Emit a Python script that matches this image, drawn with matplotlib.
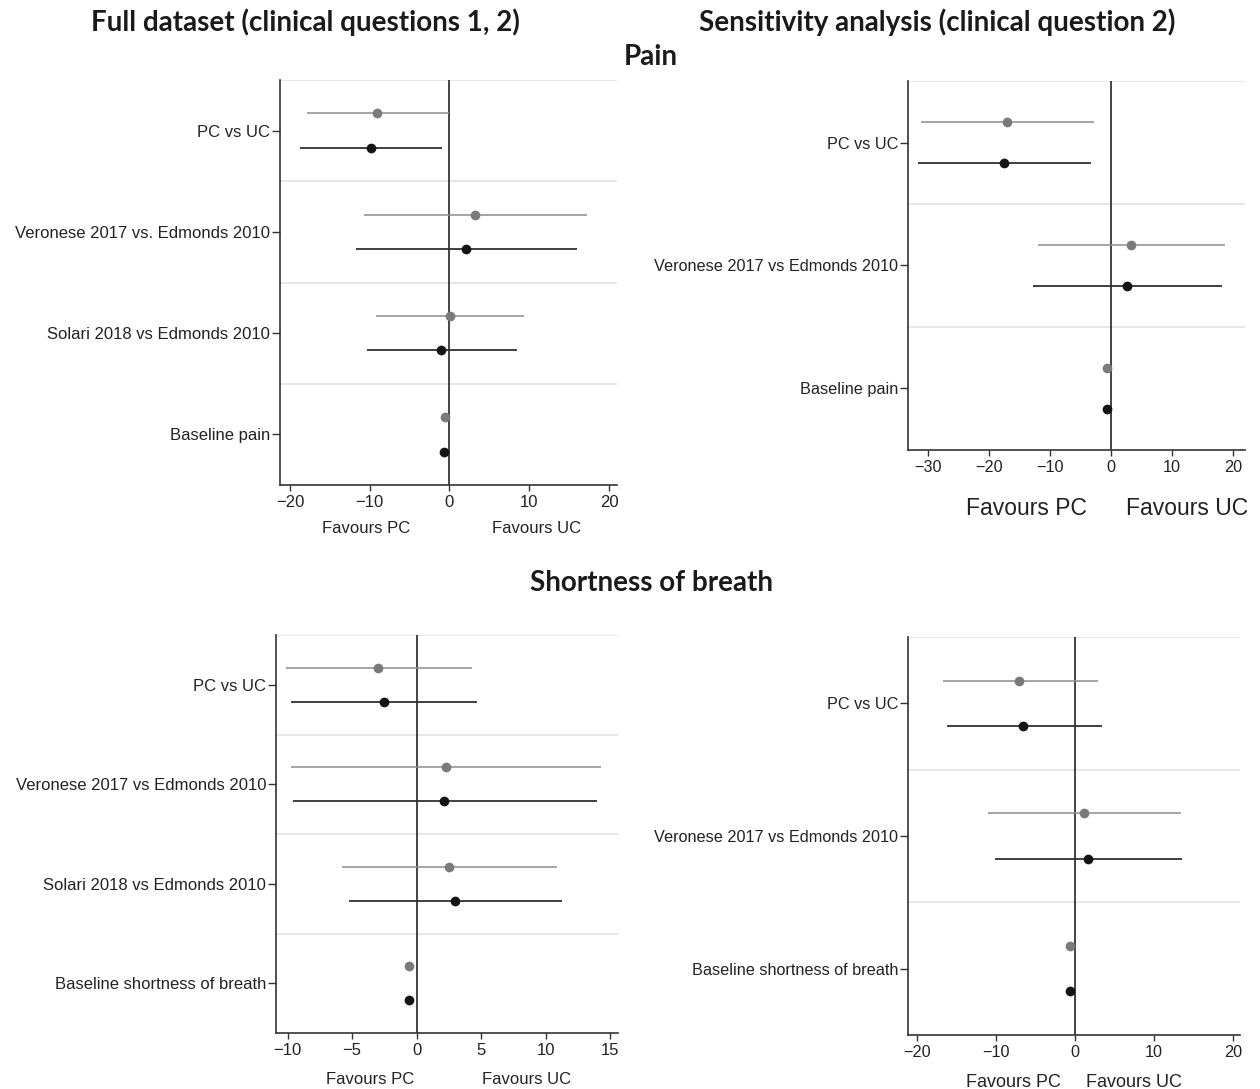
import matplotlib
matplotlib.use("Agg")
import matplotlib.pyplot as plt

plt.rcParams['font.family'] = ['Liberation Sans', 'DejaVu Sans']

# ---- Data ----
# Pain, full dataset
pain_full_labels = ["PC vs UC", "Veronese 2017 vs. Edmonds 2010", "Solari 2018 vs Edmonds 2010", "Baseline pain"]
pain_full_gray_est = [-9.1, 3.25, 0.1, -0.6]
pain_full_gray_lo = [-17.9, -10.75, -9.25, -0.6]
pain_full_gray_hi = [-0.1, 17.25, 9.4, -0.6]
pain_full_black_est = [-9.9, 2.1, -1.1, -0.7]
pain_full_black_lo = [-18.75, -11.75, -10.4, -0.7]
pain_full_black_hi = [-1.0, 16.0, 8.5, -0.7]

# Pain, sensitivity analysis
pain_sens_labels = ["PC vs UC", "Veronese 2017 vs Edmonds 2010", "Baseline pain"]
pain_sens_gray_est = [-17.0, 3.3, -0.65]
pain_sens_gray_lo = [-31.0, -11.9, -0.65]
pain_sens_gray_hi = [-2.8, 18.6, -0.65]
pain_sens_black_est = [-17.5, 2.6, -0.65]
pain_sens_black_lo = [-31.5, -12.7, -0.65]
pain_sens_black_hi = [-3.3, 18.1, -0.65]

# Shortness of breath, full dataset
sob_full_labels = ["PC vs UC", "Veronese 2017 vs Edmonds 2010", "Solari 2018 vs Edmonds 2010", "Baseline shortness of breath"]
sob_full_gray_est = [-3.0, 2.25, 2.5, -0.6]
sob_full_gray_lo = [-10.15, -9.7, -5.8, -0.6]
sob_full_gray_hi = [4.3, 14.3, 10.85, -0.6]
sob_full_black_est = [-2.55, 2.15, 2.95, -0.6]
sob_full_black_lo = [-9.75, -9.6, -5.25, -0.6]
sob_full_black_hi = [4.65, 14.0, 11.25, -0.6]

# Shortness of breath, sensitivity analysis
sob_sens_labels = ["PC vs UC", "Veronese 2017 vs Edmonds 2010", "Baseline shortness of breath"]
sob_sens_gray_est = [-7.0, 1.15, -0.55]
sob_sens_gray_lo = [-16.7, -11.0, -0.55]
sob_sens_gray_hi = [3.0, 13.4, -0.55]
sob_sens_black_est = [-6.5, 1.65, -0.6]
sob_sens_black_lo = [-16.2, -10.1, -0.6]
sob_sens_black_hi = [3.4, 13.6, -0.6]

# x axis ticks
pain_full_xticks = [-20, -10, 0, 10, 20]
pain_sens_xticks = [-30, -20, -10, 0, 10, 20]
sob_full_xticks = [-10, -5, 0, 5, 10, 15]
sob_sens_xticks = [-20, -10, 0, 10, 20]

GRAY_PT = "#7a7a7a"
GRAY_LN = "#8c8c8c"
BLACK_PT = "#141414"
BLACK_LN = "#303030"
SEP = "#e3e3e3"
SPINE = "#333333"

fig = plt.figure(figsize=(12.6, 10.89), dpi=100)


def panel(rect, labels, g_est, g_lo, g_hi, b_est, b_lo, b_hi, xticks, xlim,
          fav_x, fav_y, fav_size, lab_size):
    ax = fig.add_axes(rect)
    n = len(labels)
    ys = list(range(n))
    off = 0.17
    for i in ys:
        ax.plot([g_lo[i], g_hi[i]], [i - off, i - off], color=GRAY_LN, lw=1.1, zorder=3, solid_capstyle='butt')
        ax.plot([b_lo[i], b_hi[i]], [i + off, i + off], color=BLACK_LN, lw=1.3, zorder=3, solid_capstyle='butt')
    ax.plot(g_est, [y - off for y in ys], 'o', color=GRAY_PT, ms=7, zorder=4, mec='none')
    ax.plot(b_est, [y + off for y in ys], 'o', color=BLACK_PT, ms=7, zorder=4, mec='none')
    for k in range(n):
        ax.axhline(k - 0.5, color=SEP, lw=1.2, zorder=1)
    ax.axvline(0, color="#111111", lw=1.1, zorder=2)
    ax.set_ylim(n - 0.5, -0.5)
    ax.set_xlim(*xlim)
    ax.set_yticks(ys)
    ax.set_yticklabels(labels, fontsize=lab_size, color="#222222")
    ax.set_xticks(xticks)
    ax.set_xticklabels([("\u2212" + str(-t)) if t < 0 else str(t) for t in xticks],
                       fontsize=lab_size, color="#222222")
    for s in ['top', 'right']:
        ax.spines[s].set_visible(False)
    for s in ['left', 'bottom']:
        ax.spines[s].set_color(SPINE)
        ax.spines[s].set_linewidth(1.2)
    ax.tick_params(axis='y', length=6, width=1.0, color=SPINE, pad=1)
    ax.tick_params(axis='x', length=4, width=1.0, color=SPINE, pad=3)
    ax.text(fav_x[0], fav_y, "Favours PC", transform=ax.get_xaxis_transform(),
            ha='center', va='center', fontsize=fav_size, color="#222222")
    ax.text(fav_x[1], fav_y, "Favours UC", transform=ax.get_xaxis_transform(),
            ha='center', va='center', fontsize=fav_size, color="#222222")
    return ax


panel([0.2222, 0.5546, 0.2675, 0.3719], pain_full_labels,
      pain_full_gray_est, pain_full_gray_lo, pain_full_gray_hi,
      pain_full_black_est, pain_full_black_lo, pain_full_black_hi,
      pain_full_xticks, (-21.25, 21.0), (-10.5, 10.9), -0.108, 12, 12)

panel([0.7206, 0.5868, 0.2675, 0.3388], pain_sens_labels,
      pain_sens_gray_est, pain_sens_gray_lo, pain_sens_gray_hi,
      pain_sens_black_est, pain_sens_black_lo, pain_sens_black_hi,
      pain_sens_xticks, (-33.2, 21.9), (-13.9, 12.4), -0.158, 16.5, 11.7)

panel([0.2190, 0.0514, 0.2715, 0.3655], sob_full_labels,
      sob_full_gray_est, sob_full_gray_lo, sob_full_gray_hi,
      sob_full_black_est, sob_full_black_lo, sob_full_black_hi,
      sob_full_xticks, (-10.9, 15.6), (-3.6, 8.5), -0.118, 12, 12)

panel([0.7206, 0.0496, 0.2635, 0.3655], sob_sens_labels,
      sob_sens_gray_est, sob_sens_gray_lo, sob_sens_gray_hi,
      sob_sens_black_est, sob_sens_black_lo, sob_sens_black_hi,
      sob_sens_xticks, (-21.1, 20.9), (-7.8, 7.5), -0.12, 13, 11.7)

tfont = dict(family=['Lato', 'DejaVu Sans'], weight='bold', fontsize=20, color="#1a1a1a",
             ha='center', va='center')
fig.text(305 / 1260, 1 - 22 / 1089, "Full dataset (clinical questions 1, 2)", **tfont)
fig.text(937 / 1260, 1 - 22 / 1089, "Sensitivity analysis (clinical question 2)", **tfont)
fig.text(651 / 1260, 1 - 57 / 1089, "Pain", **tfont)
fig.text(651 / 1260, 1 - 583 / 1089, "Shortness of breath", **tfont)

fig.savefig("out.png", dpi=100, facecolor="white")
